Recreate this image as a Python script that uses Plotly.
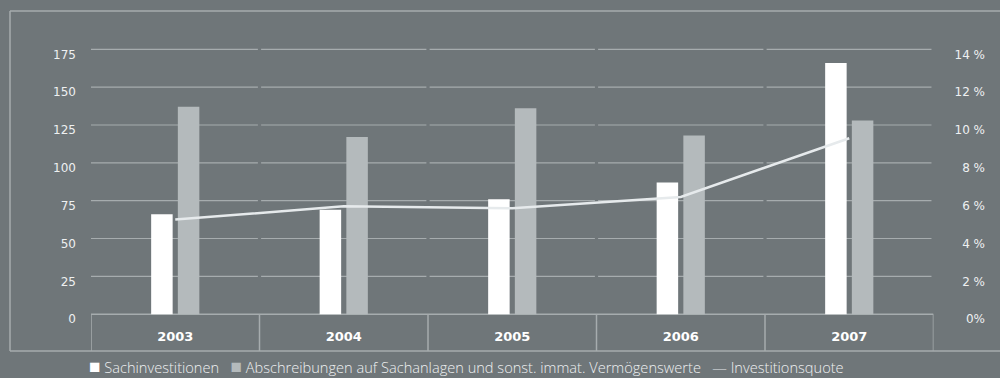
import plotly.graph_objects as go

# Jahre und Werte (Mio. €) sowie Investitionsquote (%)
years = ["2003", "2004", "2005", "2006", "2007"]
sachinvestitionen = [66, 69, 76, 87, 166]
abschreibungen = [137, 117, 136, 118, 128]
investitionsquote = [5.0, 5.7, 5.6, 6.2, 9.3]

left_ticks = [0, 25, 50, 75, 100, 125, 150, 175]
right_ticks = [0, 2, 4, 6, 8, 10, 12, 14]
right_labels = ["0%", "2 %", "4 %", "6 %", "8 %", "10 %", "12 %", "14 %"]

names = ["Sachinvestitionen",
         "Abschreibungen auf Sachanlagen und sonst. immat. Vermögenswerte",
         "Investitionsquote"]

BG = "#6f7679"
GRID = "#a6acae"
WHITE = "#ffffff"
GREY = "#b4babc"
LINE = "#e6eaec"
TXT = "#eef0f1"

# value axis extends below zero to host the year band
Y_MIN, Y_MAX = -24.3, 200.3
SCALE = 175 / 14  # left units per percent point

tick_font = dict(family="DejaVu Sans", size=12, color=TXT)

fig = go.Figure()
fig.add_trace(go.Bar(x=years, y=sachinvestitionen, name=names[0],
                     marker=dict(color=WHITE, line=dict(width=0))))
fig.add_trace(go.Bar(x=years, y=abschreibungen, name=names[1],
                     marker=dict(color=GREY, line=dict(width=0))))
fig.add_trace(go.Scatter(x=years, y=investitionsquote, name=names[2],
                         mode="lines", yaxis="y2",
                         line=dict(color=LINE, width=2.5)))

shapes = []
# segmented horizontal grid lines, interrupted at the category boundaries
g = 0.0095
for v in left_ticks[1:]:
    for i in range(len(years)):
        x0 = i - 0.5 + (g if i > 0 else 0)
        x1 = i + 0.5 - (g if i < len(years) - 1 else 0.012)
        shapes.append(dict(type="line", xref="x", yref="y", x0=x0, x1=x1, y0=v, y1=v,
                           line=dict(color=GRID, width=1.2), layer="below"))
# year band: top line and separators
shapes.append(dict(type="line", xref="x", yref="y", x0=-0.5, x1=4.5, y0=0, y1=0,
                   line=dict(color=GRID, width=1.5), layer="below"))
for i in range(len(years) + 1):
    shapes.append(dict(type="line", xref="x", yref="y", x0=i - 0.5, x1=i - 0.5,
                       y0=Y_MIN, y1=0, line=dict(color=GRID, width=1.5), layer="below"))
# outer frame
fx = (10 - 91) / 909
for s in [dict(x0=fx, x1=1.0, y0=1.0, y1=1.0),
          dict(x0=fx, x1=1.0, y0=0.0, y1=0.0),
          dict(x0=fx, x1=fx, y0=0.0, y1=1.0)]:
    shapes.append(dict(type="line", xref="paper", yref="paper",
                       line=dict(color=GRID, width=1.5), layer="below", **s))

# compact one-line key below the frame
sp = "&nbsp;" * 3
sq = 'style="color:{};font-size:19px;font-family:DejaVu Sans"'
key = (f'<span {sq.format(WHITE)}>■</span> {names[0]}{sp}'
       f'<span {sq.format(GREY)}>■</span> {names[1]}{sp}'
       f'<span style="color:{LINE}">—</span> {names[2]}')

fig.update_layout(
    width=1000, height=378,
    margin=dict(l=91, r=0, t=11, b=27),
    paper_bgcolor=BG, plot_bgcolor=BG,
    barmode="group", bargap=0.683, bargroupgap=0.195,
    font=dict(family="DejaVu Sans", color=TXT, size=12),
    shapes=shapes,
    showlegend=False,
    annotations=[dict(text=key, xref="paper", yref="paper", x=-0.003, xanchor="left",
                      y=(351 - 377.5) / 340, yanchor="bottom", showarrow=False,
                      borderpad=0,
                      font=dict(family="Open Sans", size=14.6, color=TXT, weight=300))],
    xaxis=dict(domain=[0, 842.5 / 909], range=[-0.5, 4.5], type="category",
               anchor="free", position=0.072, showgrid=False, zeroline=False,
               showline=False, ticks="",
               tickfont=dict(family="DejaVu Sans", size=13, color=WHITE, weight="bold")),
    yaxis=dict(range=[Y_MIN, Y_MAX], tickvals=left_ticks, showgrid=False,
               zeroline=False, showline=False, ticks="", ticklabelstandoff=14,
               ticklabelshift=5, tickfont=tick_font),
    yaxis2=dict(range=[Y_MIN / SCALE, Y_MAX / SCALE], tickvals=right_ticks,
                ticktext=right_labels, overlaying="y", side="left", anchor="free",
                position=(985 - 91) / 909, showgrid=False, zeroline=False,
                showline=False, ticks="", ticklabelstandoff=0, ticklabelshift=5,
                tickfont=tick_font),
)

fig.write_html("out.html")
